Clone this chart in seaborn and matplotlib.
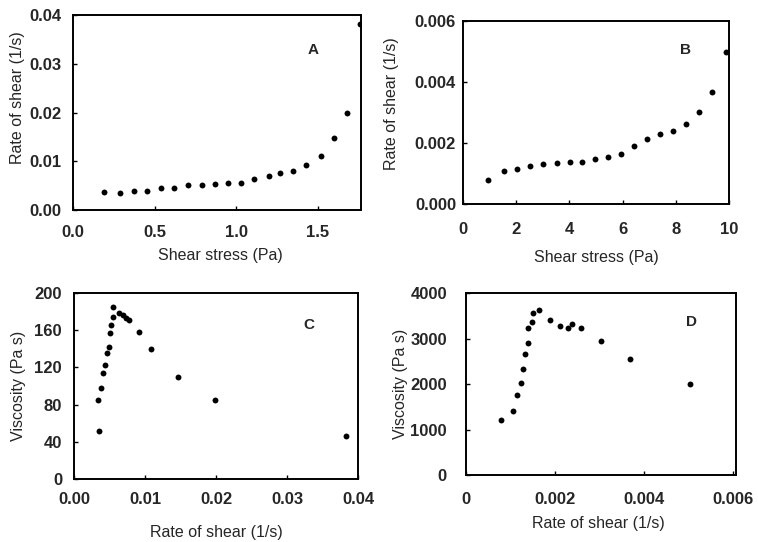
import numpy as np
import pandas as pd
import seaborn as sns
import matplotlib.pyplot as plt

# A: rate of shear vs shear stress (sample 1)
stress_a = [0.19, 0.29, 0.375, 0.457, 0.54, 0.62, 0.706, 0.79, 0.87, 0.95,
            1.03, 1.11, 1.20, 1.27, 1.35, 1.43, 1.52, 1.60, 1.68, 1.76]
rate_a = [0.0036, 0.0034, 0.0039, 0.0040, 0.0045, 0.0046, 0.0051, 0.0052, 0.0054, 0.0056,
          0.0056, 0.0063, 0.0070, 0.0075, 0.0081, 0.0092, 0.0110, 0.0147, 0.0198, 0.0381]

# B: rate of shear vs shear stress (sample 2)
stress_b = [0.94, 1.53, 2.02, 2.53, 3.0, 3.52, 4.01, 4.48, 4.98, 5.46,
            5.94, 6.44, 6.92, 7.42, 7.91, 8.4, 8.88, 9.37, 9.87]
rate_b = [0.00079, 0.00109, 0.00116, 0.00124, 0.00130, 0.00133, 0.00139, 0.00139, 0.00148, 0.00155,
          0.00165, 0.00190, 0.00214, 0.00231, 0.00240, 0.00261, 0.00303, 0.00368, 0.00499]

# C: viscosity vs rate of shear (sample 1)
rate_c = [0.00358, 0.00344, 0.00382, 0.00406, 0.00438, 0.00462, 0.0050, 0.0051, 0.00523, 0.00547,
          0.00556, 0.0064, 0.0069, 0.00735, 0.0078, 0.0091, 0.01085, 0.0147, 0.0198, 0.0383]
visc_c = [52, 85, 98, 114, 123, 136, 142, 157, 166, 174,
          185, 178, 176, 173, 171, 158, 140, 110, 85, 46]

# D: viscosity vs rate of shear (sample 2)
rate_d = [0.00078, 0.00106, 0.00114, 0.00123, 0.00128, 0.00132, 0.00138, 0.00139, 0.00148, 0.00151,
          0.00163, 0.00189, 0.00211, 0.00229, 0.00238, 0.00259, 0.00303, 0.00369, 0.00502]
visc_d = [1209, 1413, 1765, 2029, 2330, 2653, 2895, 3231, 3356, 3567,
          3626, 3407, 3275, 3237, 3312, 3240, 2940, 2560, 2004]

ticks_a_x = ['0.0', '0.5', '1.0', '1.5']
ticks_a_y = ['0.00', '0.01', '0.02', '0.03', '0.04']
ticks_b_x = ['0', '2', '4', '6', '8', '10']
ticks_b_y = ['0.000', '0.002', '0.004', '0.006']
ticks_c_x = ['0.00', '0.01', '0.02', '0.03', '0.04']
ticks_c_y = ['0', '40', '80', '120', '160', '200']
ticks_d_x = ['0', '0.002', '0.004', '0.006']
ticks_d_y = ['0', '1000', '2000', '3000', '4000']

sns.set_style('ticks')
plt.rcParams['font.family'] = ['Liberation Sans', 'DejaVu Sans']

fig = plt.figure(figsize=(7.58, 5.42), dpi=100)

panels = [
    dict(x=stress_a, y=rate_a, rect=[0.0963, 0.6125, 0.3800, 0.3598], xlim=(0, 1.767),
         xt=ticks_a_x, ylim=(0, 0.04), yt=ticks_a_y, xlab='Shear stress (Pa)',
         ylab='Rate of shear (1/s)', letter='A', lpos=(0.832, 0.82),
         xpad=11, ypad=8.6, xlc=(0.51, -0.231), ylc=(-0.191, 0.577)),
    dict(x=stress_b, y=rate_b, rect=[0.6108, 0.6236, 0.3509, 0.3377], xlim=(0, 10),
         xt=ticks_b_x, ylim=(0, 0.006), yt=ticks_b_y, xlab='Shear stress (Pa)',
         ylab='Rate of shear (1/s)', letter='B', lpos=(0.838, 0.84),
         xpad=13, ypad=5, xlc=(0.5, -0.29), ylc=(-0.267, 0.546)),
    dict(x=rate_c, y=visc_c, rect=[0.0976, 0.1162, 0.3747, 0.3432], xlim=(0, 0.04),
         xt=ticks_c_x, ylim=(0, 200), yt=ticks_c_y, xlab='Rate of shear (1/s)',
         ylab='Viscosity (Pa s)', letter='C', lpos=(0.828, 0.828),
         xpad=9.5, ypad=8.6, xlc=(0.5, -0.29), ylc=(-0.197, 0.5)),
    dict(x=rate_d, y=visc_d, rect=[0.6148, 0.1236, 0.3562, 0.3358], xlim=(0, 0.00606),
         xt=ticks_d_x, ylim=(0, 4000), yt=ticks_d_y, xlab='Rate of shear (1/s)',
         ylab='Viscosity (Pa s)', letter='D', lpos=(0.836, 0.842),
         xpad=12, ypad=13.7, xlc=(0.49, -0.264), ylc=(-0.241, 0.5)),
]

for p in panels:
    ax = fig.add_axes(p['rect'])
    df = pd.DataFrame({'x': p['x'], 'y': p['y']})
    sns.scatterplot(data=df, x='x', y='y', ax=ax, color='black', s=18, linewidth=0)
    ax.set_xlim(*p['xlim'])
    ax.set_ylim(*p['ylim'])
    ax.set_xticks([float(t) for t in p['xt']])
    ax.set_yticks([float(t) for t in p['yt']])
    ax.set_xticklabels(p['xt'], fontsize=12, fontweight='bold')
    ax.set_yticklabels(p['yt'], fontsize=12, fontweight='bold')
    ax.tick_params(axis='both', direction='in', length=3, width=1, color='black')
    ax.tick_params(axis='x', pad=p['xpad'])
    ax.tick_params(axis='y', pad=p['ypad'])
    ax.set_xlabel(p['xlab'], fontsize=11.5, va='center')
    ax.set_ylabel(p['ylab'], fontsize=11.5, va='center')
    ax.xaxis.set_label_coords(*p['xlc'])
    ax.yaxis.set_label_coords(*p['ylc'])
    for sp in ax.spines.values():
        sp.set_visible(True)
        sp.set_linewidth(1.4)
        sp.set_color('black')
    ax.text(*p['lpos'], p['letter'], transform=ax.transAxes, ha='center', va='center',
            fontsize=11, fontweight='bold')

fig.savefig('out.png', dpi=100)
